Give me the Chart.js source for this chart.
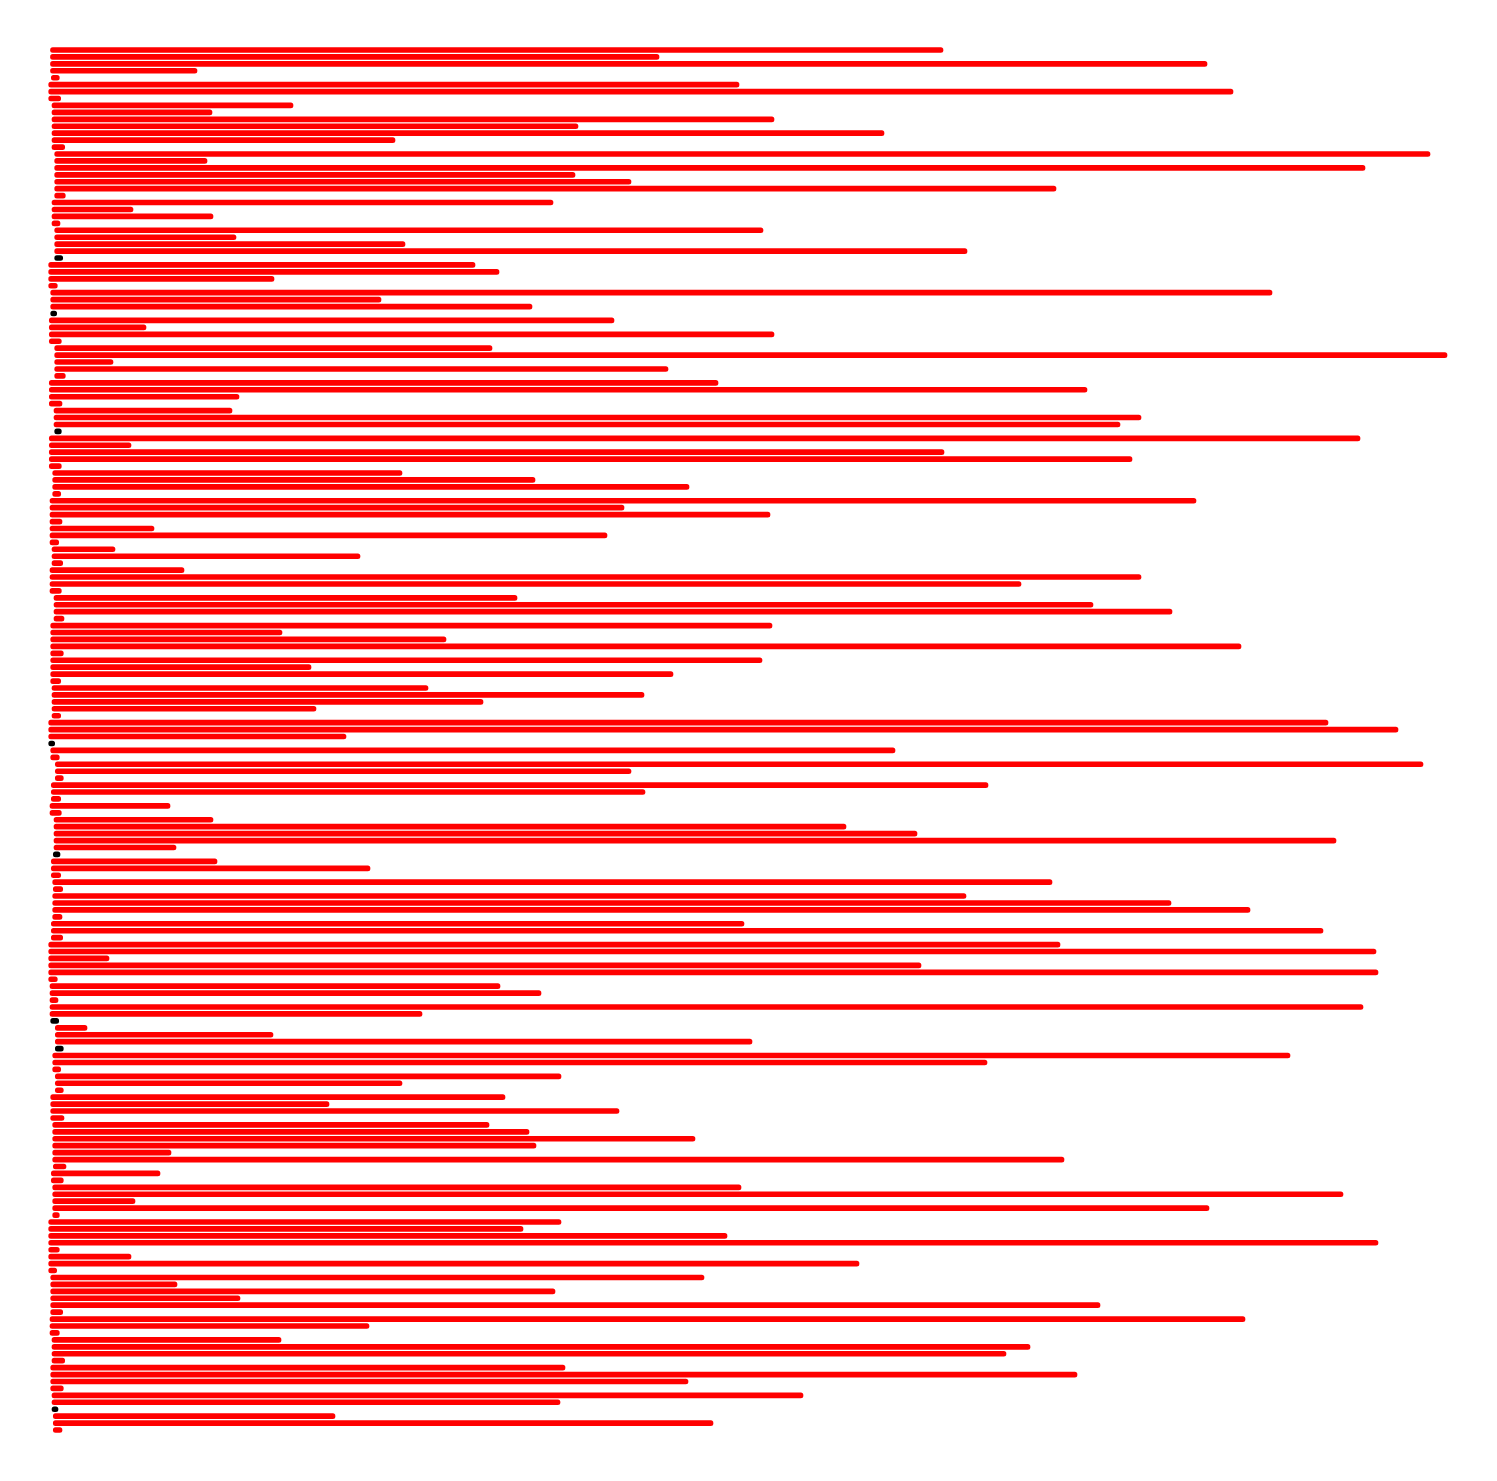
<!DOCTYPE html>
<html>
<head>
<meta charset="utf-8">
<script src="https://cdn.jsdelivr.net/npm/chart.js@4/dist/chart.umd.min.js"></script>
<style>
  html, body { margin: 0; padding: 0; background: #ffffff; }
  #wrap { width: 1497px; height: 1481px; }
</style>
</head>
<body>
<div id="wrap"><canvas id="c" width="1497" height="1481"></canvas></div>
<script>
// Bar start values (one per row, top to bottom)
const starts = [
  50.5,50.5,50.5,50.5,51.3,48.7,48.7,48.7,52,52,
  52,52,52,52,52,54.7,54.7,54.7,54.7,54.7,
  54.7,54.7,52,52,52,52,54.7,54.7,54.7,54.7,
  54.7,48.7,48.7,48.7,48.7,50.7,50.7,50.7,50.7,49.3,
  49.3,49.3,49.3,54.7,54.7,54.7,54.7,54.7,49.3,49.3,
  49.3,49.3,54,54,54,54.7,49.3,49.3,49.3,49.3,
  49.3,52.7,52.7,52.7,52.7,50,50,50,50,50,
  50,50,52,52,52,50,50,50,50,54,
  54,54,54,50.7,50.7,50.7,50.7,50.7,50.7,50.7,
  50.7,50.7,52,52,52,52,52,48.7,48.7,48.7,
  48.7,50.7,50.7,55.3,55.3,55.3,51.3,51.3,51.3,50,
  50,54,54,54,54,54,53.3,51.3,51.3,51.3,
  52.7,53.3,52.7,52.7,52.7,52.7,51.3,51.3,51.3,48.7,
  48.7,48.7,48.7,48.7,48.7,50,50,50,50,50,
  50.7,55.3,55.3,55.3,55.3,52.7,52.7,52.7,55.3,55.3,
  55.3,50.7,50.7,50.7,50.7,52.7,52.7,52.7,52.7,52.7,
  52.7,53.3,51.3,51.3,52.7,52.7,52.7,52.7,52.7,48.7,
  48.7,48.7,48.7,48.7,48.7,48.7,48.7,50.7,50.7,50.7,
  50.7,50.7,50.7,50,50,50,52,52,52,52,
  50.7,50.7,50.7,50.7,52,52,52,53.3,53.3,53.3
];

// Bar end values (one per row, top to bottom)
const ends = [
  943,659,1207,197,59.3,739,1233,60.7,293,212,
  774,578,884,395,64.7,1430,207,1365,575,631,
  1056,65.3,553,133,213,60,763,236,405,967,
  62.7,475,499,274,57.3,1272,381,532,56.7,614,
  146,774,61.3,492,1447,113,668,65.3,718,1087,
  239,62,232,1141,1120,61.3,1360,131,944,1132,
  61.3,402,535,689,60.7,1196,624,770,62,154,
  607,58.7,115,360,62.7,184,1141,1021,61.3,517,
  1093,1172,64,772,282,446,1241,63.3,762,311,
  673,60.7,428,644,483,316,60.7,1328,1398,346,
  54.7,895,59.3,1423,631,63.3,988,645,60.7,170,
  61.3,213,846,917,1336,176,60,217,370,60.7,
  1052,62.7,966,1171,1250,62,744,1323,62.7,1060,
  1376,109,921,1378,57.3,500,541,58,1363,422,
  58.7,87,273,752,63.3,1290,987,60.7,561,402,
  63.3,505,329,619,64,489,529,695,536,171,
  1064,66,160,63.3,741,1343,135,1209,59.3,561,
  523,727,1378,59.3,131,859,56.7,704,177,555,
  240,1100,62.7,1245,369,59.3,281,1030,1006,64.7,
  565,1077,688,63.3,803,560,58,335,713,62
];

// Rows drawn as black markers instead of red bars
const blackRows = [30, 38, 55, 100, 116, 140, 144, 196];

// Category labels (one per row)
const categories = starts.map((_, i) => 'Row ' + (i + 1));

const redData = starts.map((s, i) => blackRows.includes(i) ? null : [s, ends[i]]);
const blackData = starts.map((s, i) => blackRows.includes(i) ? [s, ends[i]] : null);

new Chart(document.getElementById('c'), {
  type: 'bar',
  data: {
    labels: categories,
    datasets: [
      {
        label: 'bars',
        data: redData,
        backgroundColor: '#ff0000',
        borderWidth: 0,
        borderSkipped: false,
        borderRadius: 3,
        barThickness: 5,
        grouped: false
      },
      {
        label: 'markers',
        data: blackData,
        backgroundColor: '#000000',
        borderWidth: 0,
        borderSkipped: false,
        borderRadius: 3,
        barThickness: 5,
        grouped: false
      }
    ]
  },
  options: {
    indexAxis: 'y',
    responsive: false,
    animation: false,
    layout: { padding: { top: 46.5, bottom: 47.5, left: 0, right: 0 } },
    plugins: { legend: { display: false }, tooltip: { enabled: false } },
    scales: {
      x: { type: 'linear', display: false, min: 0, max: 1497 },
      y: { display: false, offset: true }
    }
  }
});
</script>
</body>
</html>
